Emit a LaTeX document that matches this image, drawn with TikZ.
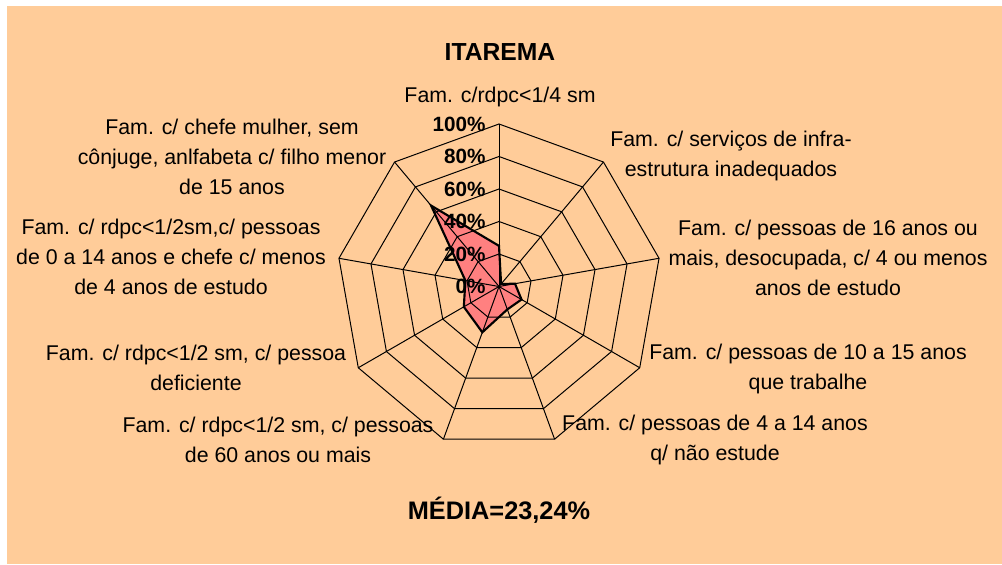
\documentclass[tikz,border=0pt]{standalone}
\usepackage{fontspec}
\setmainfont{Liberation Sans}
\definecolor{chartbg}{RGB}{255,204,153}
\definecolor{seriefill}{RGB}{255,128,128}
\tikzset{every picture/.style={line width=0.75pt}}
\tikzset{
  axislabel/.style={align=center,inner sep=0.75pt,font=\fontsize{16}{22.5}\selectfont},
  ticklabel/.style={anchor=east,inner sep=0.75pt,font=\fontsize{15.5}{18}\selectfont\bfseries},
  gridline/.style={draw=black,line width=0.75pt},
  serieline/.style={draw=black,line width=1.6pt,line join=miter}
}

\begin{document}
\begin{tikzpicture}[x=0.75pt,y=0.75pt,yscale=-1,xscale=1]
\useasboundingbox (0,0) rectangle (1002,564);

%Background
\fill [chartbg] (7,6) rectangle (1002,564);

% Text Node
\node (title) at (500,52) [inner sep=0.75pt,font=\fontsize{18.5}{22}\selectfont\bfseries] {ITAREMA};
% Text Node
\node (media) at (499,510) [inner sep=0.75pt,font=\fontsize{19}{22}\selectfont\bfseries] {MÉDIA=23,24\%};

\begin{scope}[shift={(499,286.5)}]
%values of the serie, one per axis
\foreach \v [count=\k from 0] in {25,2,10,16,15,30,25,21,65}
  \coordinate (p\k) at (40*\k-90:1.625*\v);
\fill [seriefill] (p0) -- (p1) -- (p2) -- (p3) -- (p4) -- (p5) -- (p6) -- (p7) -- (p8) -- cycle;

%Spokes
\foreach \k in {0,...,8}
  \draw [gridline] (0,0) -- (40*\k-90:162.5);
%Rings
\foreach \r in {1,...,5}
  \draw [gridline] (-90:32.5*\r) \foreach \k in {1,...,8}{ -- (40*\k-90:32.5*\r)} -- cycle;

%Serie
\draw [serieline] (p0) -- (p1) -- (p2) -- (p3) -- (p4) -- (p5) -- (p6) -- (p7) -- (p8) -- cycle;

%Tick labels
\foreach \r in {0,...,5}
  \node (tick\r) at (-12,-32.5*\r) [ticklabel] {\pgfmathparse{int(20*\r)}\pgfmathresult\%};
\end{scope}

% Text Node
\node (lab0) at (500,97) [axislabel] {Fam. c/rdpc<1/4 sm};
% Text Node
\node (lab1) at (731,156) [axislabel] {Fam. c/ serviços de infra-\\estrutura inadequados};
% Text Node
\node (lab2) at (828,258) [axislabel] {Fam. c/ pessoas de 16 anos ou\\mais, desocupada, c/ 4 ou menos\\anos de estudo};
% Text Node
\node (lab3) at (808,369) [axislabel] {Fam. c/ pessoas de 10 a 15 anos\\que trabalhe};
% Text Node
\node (lab4) at (715,440) [axislabel] {Fam. c/ pessoas de 4 a 14 anos\\q/ não estude};
% Text Node
\node (lab5) at (278,440) [axislabel] {Fam. c/ rdpc<1/2 sm, c/ pessoas\\de 60 anos ou mais};
% Text Node
\node (lab6) at (196,368) [axislabel] {Fam. c/ rdpc<1/2 sm, c/ pessoa\\deficiente};
% Text Node
\node (lab7) at (171,257) [axislabel] {Fam. c/ rdpc<1/2sm,c/ pessoas\\de 0 a 14 anos e chefe c/ menos\\de 4 anos de estudo};
% Text Node
\node (lab8) at (232,157) [axislabel] {Fam. c/ chefe mulher, sem\\cônjuge, anlfabeta c/ filho menor\\de 15 anos};

\end{tikzpicture}
\end{document}
